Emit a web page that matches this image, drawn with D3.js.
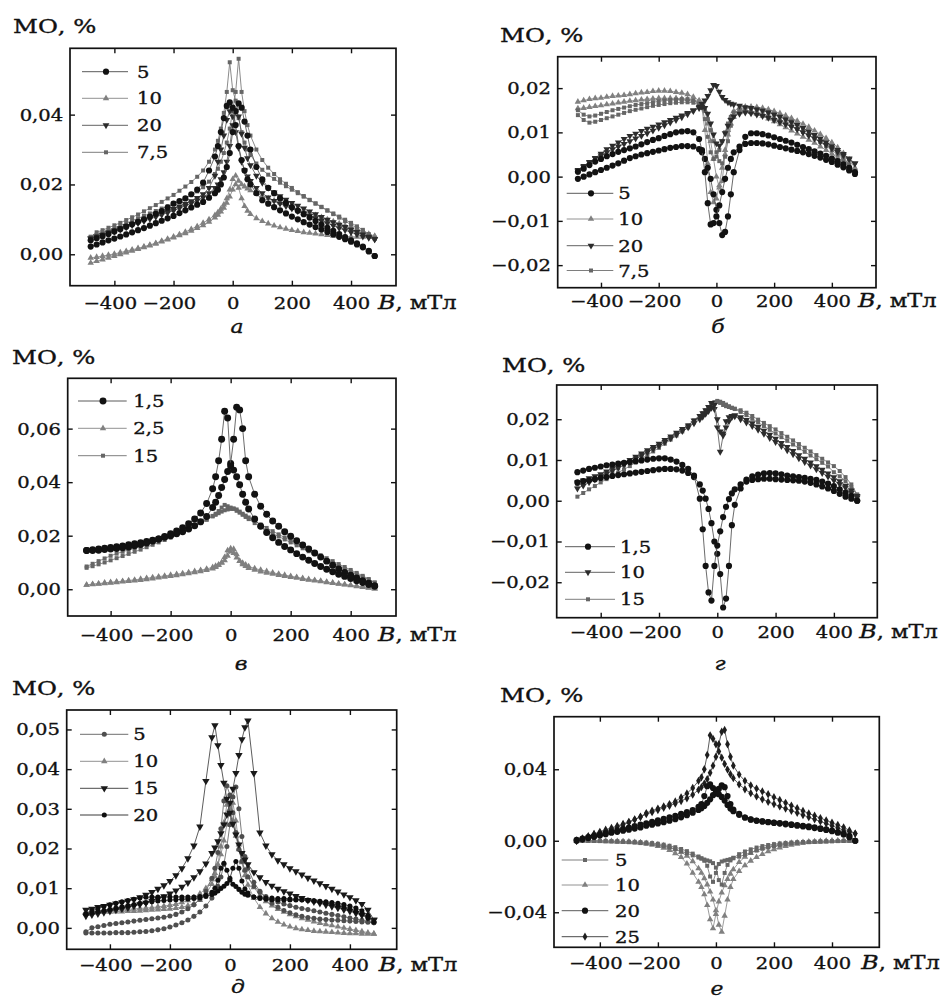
<!DOCTYPE html>
<html>
<head>
<meta charset="utf-8">
<script src="https://cdn.jsdelivr.net/npm/d3@7"></script>
<style>
  body { margin: 0; background: #fff; }
  svg { display: block; }
  text { font-family: "DejaVu Serif", "Liberation Serif", serif; fill: #111; stroke: #111; stroke-width: 0.35px; }
</style>
</head>
<body>
<svg id="fig" width="951" height="1003"></svg>
<script>
// Magnetic field values (mT) at which MO was recorded, shared by every branch
const fieldB = [-480,-460,-440,-420,-400,-380,-360,-340,-320,-300,-280,-260,-240,-220,-200,-180,-160,-140,-120,-100,-80,-60,
  -50,-40,-30,-20,-10,0,10,20,30,40,50,
  60,80,100,120,140,160,180,200,220,240,260,280,300,320,340,360,380,400,420,440,460,480];

const xTicks = [-400, -200, 0, 200, 400];

// ---- panel а : MO (%) for the increasing (up) and decreasing (down) field sweeps
const a_5_up = [.0022,.0028,.0034,.0040,.0045,.0051,.0057,.0063,.0069,.0075,.0082,.0089,.0096,.0103,.0110,.0118,.0126,.0134,.0142,.0150,.0162,.0175,
  .0185,.0200,.0220,.0250,.0290,.0350,.0410,.0432,.0420,.0380,.0340,
  .0300,.0250,.0215,.0190,.0175,.0160,.0147,.0135,.0125,.0115,.0105,.0095,.0085,.0076,.0067,.0058,.0049,.0040,.0031,.0022,.0010,-.0005];
const a_5_down = [.0040,.0046,.0052,.0058,.0065,.0072,.0079,.0086,.0093,.0100,.0108,.0116,.0124,.0134,.0145,.0152,.0160,.0172,.0185,.0205,.0240,.0280,
  .0310,.0350,.0390,.0425,.0435,.0420,.0370,.0310,.0270,.0240,.0215,
  .0200,.0175,.0155,.0145,.0135,.0126,.0117,.0108,.0100,.0092,.0085,.0078,.0071,.0064,.0057,.0050,.0043,.0036,.0028,.0020,.0008,-.0005];
const a_10_up = [-.0025,-.0020,-.0015,-.0010,-.0005,.0000,.0005,.0010,.0015,.0020,.0025,.0030,.0036,.0042,.0048,.0054,.0060,.0067,.0075,.0083,.0093,.0105,
  .0113,.0122,.0133,.0147,.0165,.0185,.0200,.0190,.0160,.0138,.0124,
  .0115,.0103,.0095,.0088,.0082,.0077,.0073,.0069,.0066,.0063,.0061,.0059,.0057,.0055,.0053,.0052,.0051,.0050,.0050,.0050,.0051,.0052];
const a_10_down = [-.0010,-.0008,-.0005,-.0002,.0001,.0005,.0009,.0013,.0017,.0022,.0027,.0032,.0038,.0044,.0050,.0057,.0064,.0072,.0080,.0090,.0100,.0112,
  .0120,.0130,.0142,.0160,.0185,.0215,.0225,.0210,.0200,.0194,.0188,
  .0183,.0175,.0167,.0160,.0154,.0148,.0142,.0136,.0130,.0124,.0118,.0112,.0106,.0100,.0094,.0088,.0082,.0076,.0070,.0064,.0058,.0052];
const a_20_up = [.0045,.0050,.0055,.0060,.0065,.0071,.0077,.0083,.0089,.0095,.0101,.0107,.0113,.0119,.0125,.0132,.0139,.0146,.0154,.0163,.0175,.0190,
  .0200,.0215,.0235,.0265,.0310,.0370,.0410,.0395,.0345,.0305,.0275,
  .0255,.0225,.0205,.0190,.0177,.0166,.0156,.0147,.0139,.0131,.0123,.0115,.0107,.0099,.0092,.0085,.0078,.0071,.0064,.0057,.0050,.0043];
const a_20_down = [.0045,.0051,.0057,.0063,.0069,.0075,.0081,.0087,.0093,.0099,.0105,.0111,.0117,.0123,.0130,.0137,.0144,.0152,.0161,.0172,.0190,.0225,
  .0265,.0300,.0340,.0385,.0410,.0395,.0350,.0305,.0265,.0240,.0223,
  .0210,.0190,.0175,.0163,.0153,.0145,.0138,.0131,.0124,.0117,.0110,.0103,.0096,.0089,.0082,.0075,.0069,.0063,.0057,.0051,.0047,.0043];
const a_7_5_up = [.0050,.0056,.0062,.0068,.0075,.0082,.0089,.0096,.0103,.0110,.0117,.0124,.0131,.0138,.0145,.0153,.0161,.0170,.0180,.0192,.0208,.0230,
  .0245,.0265,.0290,.0320,.0360,.0410,.0465,.0560,.0465,.0410,.0370,
  .0340,.0300,.0270,.0248,.0230,.0215,.0202,.0190,.0178,.0167,.0156,.0146,.0136,.0126,.0117,.0108,.0099,.0090,.0080,.0070,.0058,.0045];
const a_7_5_down = [.0050,.0063,.0069,.0076,.0083,.0090,.0098,.0106,.0114,.0123,.0132,.0141,.0150,.0160,.0170,.0182,.0194,.0207,.0222,.0240,.0265,.0300,
  .0325,.0360,.0405,.0465,.0550,.0470,.0440,.0390,.0350,.0320,.0300,
  .0285,.0260,.0242,.0228,.0216,.0205,.0195,.0185,.0175,.0165,.0155,.0145,.0135,.0125,.0115,.0105,.0095,.0085,.0075,.0065,.0055,.0045];

// ---- panel б
const b_5_up = [-.0005,.0000,.0005,.0010,.0015,.0020,.0025,.0030,.0036,.0042,.0046,.0050,.0053,.0056,.0059,.0062,.0065,.0067,.0069,.0069,.0068,.0062,
  .0055,.0040,.0020,-.0005,-.0040,-.0075,-.0105,-.0132,-.0125,-.0090,-.0040,
  .0010,.0060,.0090,.0098,.0098,.0096,.0093,.0089,.0085,.0081,.0077,.0072,.0067,.0062,.0057,.0052,.0047,.0041,.0035,.0028,.0020,.0010];
const b_5_down = [.0011,.0018,.0026,.0034,.0040,.0046,.0051,.0056,.0060,.0064,.0068,.0073,.0078,.0083,.0087,.0092,.0096,.0100,.0102,.0103,.0100,.0085,
  .0060,.0010,-.0060,-.0108,-.0105,-.0090,-.0065,-.0035,-.0005,.0020,.0040,
  .0055,.0068,.0074,.0076,.0076,.0075,.0073,.0070,.0067,.0064,.0061,.0058,.0055,.0051,.0047,.0043,.0038,.0033,.0027,.0021,.0014,.0006];
const b_10_up = [.0154,.0155,.0157,.0159,.0161,.0163,.0165,.0167,.0169,.0171,.0172,.0174,.0175,.0176,.0177,.0177,.0177,.0177,.0176,.0175,.0173,.0170,
  .0165,.0150,.0120,.0080,.0040,.0000,-.0025,-.0010,.0050,.0105,.0135,
  .0148,.0156,.0158,.0158,.0157,.0155,.0152,.0148,.0143,.0138,.0132,.0126,.0119,.0112,.0104,.0096,.0087,.0077,.0066,.0053,.0038,.0020];
const b_10_down = [.0169,.0172,.0175,.0177,.0178,.0180,.0182,.0183,.0184,.0186,.0188,.0190,.0191,.0193,.0194,.0194,.0193,.0191,.0189,.0186,.0180,.0172,
  .0155,.0105,.0030,-.0035,-.0058,-.0050,-.0020,.0020,.0060,.0095,.0120,
  .0135,.0145,.0148,.0146,.0142,.0137,.0131,.0125,.0118,.0111,.0104,.0097,.0090,.0083,.0076,.0068,.0060,.0052,.0043,.0034,.0024,.0014];
const b_20_up = [.0012,.0022,.0032,.0042,.0052,.0062,.0070,.0077,.0085,.0092,.0097,.0103,.0108,.0113,.0118,.0123,.0128,.0133,.0138,.0144,.0150,.0158,
  .0164,.0172,.0182,.0195,.0207,.0205,.0192,.0180,.0173,.0168,.0165,
  .0163,.0160,.0157,.0155,.0152,.0149,.0145,.0140,.0135,.0129,.0123,.0117,.0110,.0102,.0094,.0086,.0078,.0069,.0060,.0051,.0041,.0030];
const b_20_down = [.0015,.0024,.0033,.0041,.0048,.0055,.0062,.0068,.0074,.0080,.0086,.0092,.0098,.0104,.0110,.0116,.0122,.0128,.0134,.0141,.0148,.0155,
  .0158,.0155,.0142,.0120,.0095,.0075,.0070,.0080,.0098,.0115,.0128,
  .0136,.0142,.0145,.0143,.0140,.0137,.0133,.0128,.0123,.0118,.0113,.0107,.0100,.0093,.0086,.0079,.0072,.0064,.0056,.0048,.0039,.0030];
const b_7_5_up = [.0139,.0128,.0122,.0124,.0128,.0132,.0136,.0140,.0144,.0148,.0151,.0154,.0157,.0160,.0162,.0164,.0166,.0167,.0168,.0168,.0167,.0163,
  .0158,.0148,.0130,.0105,.0080,.0055,.0035,.0030,.0045,.0080,.0115,
  .0135,.0150,.0155,.0155,.0153,.0150,.0146,.0142,.0137,.0131,.0125,.0118,.0110,.0102,.0093,.0084,.0075,.0065,.0054,.0042,.0028,.0010];
const b_7_5_down = [.0150,.0140,.0136,.0138,.0142,.0146,.0150,.0153,.0156,.0159,.0162,.0164,.0166,.0168,.0170,.0172,.0173,.0174,.0175,.0175,.0172,.0165,
  .0155,.0130,.0090,.0055,.0040,.0045,.0060,.0080,.0100,.0120,.0135,
  .0145,.0150,.0150,.0148,.0145,.0141,.0137,.0132,.0127,.0121,.0115,.0108,.0101,.0094,.0086,.0078,.0069,.0060,.0050,.0039,.0026,.0008];

// ---- panel в
const v_1_5_up = [.0145,.0148,.0150,.0153,.0156,.0159,.0162,.0166,.0170,.0174,.0178,.0183,.0188,.0194,.0200,.0207,.0215,.0225,.0237,.0252,.0272,.0305,
  .0325,.0350,.0380,.0410,.0440,.0470,.0560,.0680,.0670,.0600,.0480,
  .0420,.0355,.0310,.0280,.0255,.0235,.0215,.0198,.0181,.0165,.0150,.0135,.0120,.0105,.0090,.0076,.0063,.0052,.0042,.0032,.0022,.0012];
const v_1_5_down = [.0145,.0145,.0146,.0148,.0150,.0152,.0155,.0158,.0162,.0167,.0173,.0180,.0188,.0197,.0207,.0218,.0230,.0245,.0262,.0285,.0320,.0375,
  .0420,.0480,.0560,.0665,.0640,.0460,.0445,.0420,.0390,.0355,.0325,
  .0300,.0262,.0235,.0212,.0192,.0175,.0160,.0147,.0133,.0120,.0108,.0096,.0085,.0075,.0065,.0056,.0048,.0040,.0032,.0025,.0018,.0012];
const v_2_5_up = [.0016,.0019,.0021,.0024,.0026,.0028,.0030,.0033,.0035,.0038,.0041,.0044,.0047,.0050,.0053,.0056,.0059,.0063,.0067,.0071,.0076,.0082,
  .0087,.0092,.0098,.0108,.0125,.0140,.0150,.0130,.0105,.0093,.0086,
  .0079,.0072,.0066,.0061,.0057,.0053,.0049,.0045,.0042,.0038,.0035,.0032,.0029,.0026,.0023,.0020,.0017,.0014,.0011,.0008,.0005,.0002];
const v_2_5_down = [.0016,.0018,.0020,.0022,.0024,.0026,.0028,.0030,.0032,.0034,.0037,.0040,.0043,.0046,.0049,.0052,.0055,.0059,.0063,.0067,.0071,.0077,
  .0083,.0090,.0100,.0120,.0145,.0152,.0135,.0118,.0106,.0098,.0092,
  .0085,.0078,.0072,.0067,.0062,.0057,.0053,.0049,.0045,.0041,.0037,.0034,.0031,.0027,.0024,.0021,.0018,.0015,.0012,.0009,.0006,.0002];
const v_15_up = [.0085,.0095,.0105,.0115,.0125,.0133,.0140,.0147,.0153,.0160,.0167,.0175,.0183,.0191,.0199,.0207,.0216,.0226,.0237,.0248,.0260,.0272,
  .0278,.0284,.0290,.0295,.0298,.0300,.0302,.0298,.0290,.0282,.0275,
  .0268,.0255,.0242,.0229,.0217,.0205,.0193,.0182,.0171,.0160,.0149,.0138,.0127,.0116,.0105,.0094,.0083,.0072,.0061,.0050,.0038,.0025];
const v_15_down = [.0080,.0086,.0093,.0100,.0108,.0116,.0124,.0132,.0140,.0148,.0157,.0166,.0175,.0184,.0193,.0203,.0213,.0224,.0235,.0247,.0260,.0274,
  .0282,.0292,.0305,.0315,.0310,.0305,.0300,.0293,.0286,.0278,.0270,
  .0262,.0247,.0233,.0220,.0208,.0197,.0186,.0175,.0164,.0153,.0142,.0131,.0120,.0109,.0098,.0087,.0076,.0066,.0056,.0046,.0036,.0025];

// ---- panel г
const g_1_5_up = [.0045,.0048,.0050,.0053,.0056,.0058,.0061,.0063,.0065,.0067,.0069,.0071,.0073,.0075,.0077,.0078,.0078,.0077,.0074,.0068,.0058,.0040,
  .0025,.0005,-.0020,-.0055,-.0100,-.0130,-.0180,-.0262,-.0240,-.0160,-.0060,
  -.0010,.0030,.0052,.0060,.0064,.0067,.0068,.0067,.0065,.0062,.0060,.0058,.0056,.0054,.0051,.0047,.0042,.0036,.0028,.0020,.0012,.0000];
const g_1_5_down = [.0070,.0074,.0078,.0081,.0084,.0087,.0089,.0091,.0093,.0095,.0097,.0099,.0101,.0103,.0104,.0104,.0101,.0096,.0088,.0078,.0062,.0005,
  -.0070,-.0160,-.0225,-.0245,-.0160,-.0110,-.0075,-.0040,-.0015,.0004,.0018,
  .0028,.0040,.0047,.0051,.0053,.0054,.0054,.0053,.0052,.0051,.0050,.0049,.0047,.0044,.0040,.0035,.0030,.0024,.0017,.0010,.0005,.0000];
const g_10_up = [.0030,.0037,.0045,.0052,.0060,.0067,.0074,.0081,.0088,.0095,.0103,.0111,.0119,.0127,.0135,.0144,.0153,.0162,.0171,.0180,.0190,.0200,
  .0206,.0213,.0220,.0228,.0225,.0180,.0120,.0160,.0195,.0205,.0208,
  .0207,.0200,.0192,.0183,.0174,.0164,.0154,.0144,.0134,.0124,.0114,.0104,.0095,.0086,.0077,.0068,.0059,.0050,.0041,.0032,.0020,.0008];
const g_10_down = [.0045,.0050,.0055,.0060,.0065,.0072,.0079,.0086,.0093,.0100,.0108,.0116,.0124,.0132,.0140,.0149,.0158,.0167,.0176,.0185,.0197,.0208,
  .0215,.0222,.0230,.0240,.0235,.0200,.0170,.0165,.0180,.0195,.0205,
  .0210,.0205,.0198,.0190,.0181,.0172,.0162,.0152,.0142,.0132,.0122,.0112,.0103,.0094,.0085,.0076,.0067,.0058,.0048,.0037,.0025,.0012];
const g_15_up = [.0010,.0019,.0028,.0036,.0045,.0053,.0061,.0069,.0077,.0085,.0094,.0103,.0112,.0121,.0130,.0140,.0150,.0160,.0170,.0180,.0192,.0205,
  .0212,.0220,.0228,.0235,.0240,.0243,.0240,.0235,.0232,.0230,.0228,
  .0226,.0222,.0216,.0208,.0199,.0191,.0183,.0175,.0166,.0157,.0148,.0139,.0130,.0121,.0112,.0103,.0094,.0085,.0073,.0058,.0040,.0015];
const g_15_down = [.0040,.0044,.0049,.0053,.0058,.0065,.0073,.0080,.0088,.0095,.0104,.0112,.0121,.0129,.0138,.0147,.0156,.0165,.0175,.0185,.0197,.0208,
  .0215,.0222,.0229,.0235,.0242,.0245,.0243,.0240,.0236,.0232,.0228,
  .0225,.0218,.0210,.0201,.0192,.0183,.0174,.0165,.0156,.0147,.0138,.0129,.0120,.0111,.0102,.0093,.0084,.0070,.0060,.0048,.0033,.0015];

// ---- panel д
const d_5_up = [-.0013,-.0013,-.0013,-.0013,-.0013,-.0012,-.0012,-.0012,-.0011,-.0010,-.0009,-.0007,-.0005,-.0002,.0002,.0007,.0013,.0020,.0029,.0040,.0055,.0075,
  .0088,.0105,.0128,.0160,.0205,.0260,.0330,.0355,.0300,.0230,.0180,
  .0150,.0115,.0092,.0075,.0062,.0052,.0044,.0038,.0033,.0029,.0026,.0024,.0022,.0021,.0020,.0019,.0018,.0017,.0016,.0015,.0014,.0013];
const d_5_down = [-.0010,.0000,.0003,.0006,.0009,.0011,.0013,.0015,.0017,.0019,.0021,.0023,.0025,.0027,.0030,.0034,.0040,.0048,.0058,.0072,.0092,.0125,
  .0150,.0190,.0250,.0320,.0358,.0335,.0290,.0240,.0198,.0168,.0145,
  .0128,.0105,.0090,.0079,.0071,.0065,.0060,.0056,.0052,.0049,.0046,.0043,.0040,.0037,.0034,.0031,.0028,.0025,.0022,.0019,.0016,.0013];
const d_10_up = [.0040,.0041,.0042,.0043,.0044,.0045,.0046,.0047,.0048,.0049,.0050,.0051,.0053,.0055,.0057,.0060,.0064,.0069,.0076,.0086,.0100,.0122,
  .0138,.0158,.0185,.0220,.0260,.0295,.0315,.0270,.0210,.0165,.0132,
  .0108,.0075,.0052,.0036,.0024,.0015,.0008,.0003,-.0001,-.0004,-.0006,-.0008,-.0009,-.0010,-.0011,-.0012,-.0013,-.0014,-.0014,-.0015,-.0015,-.0015];
const d_10_down = [.0040,.0040,.0040,.0040,.0040,.0041,.0041,.0042,.0042,.0043,.0044,.0045,.0046,.0047,.0048,.0050,.0052,.0056,.0061,.0070,.0085,.0110,
  .0130,.0160,.0205,.0265,.0310,.0300,.0270,.0232,.0198,.0168,.0145,
  .0128,.0102,.0082,.0067,.0056,.0047,.0040,.0034,.0029,.0024,.0020,.0016,.0012,.0009,.0006,.0003,.0000,-.0003,-.0006,-.0009,-.0012,-.0015];
const d_15_up = [.0030,.0033,.0036,.0039,.0042,.0045,.0048,.0051,.0055,.0059,.0063,.0068,.0073,.0079,.0086,.0094,.0103,.0114,.0127,.0142,.0162,.0188,
  .0202,.0218,.0238,.0260,.0285,.0315,.0350,.0390,.0435,.0475,.0505,
  .0522,.0390,.0240,.0207,.0185,.0170,.0160,.0150,.0142,.0134,.0126,.0119,.0112,.0105,.0098,.0091,.0084,.0077,.0069,.0060,.0045,.0020];
const d_15_down = [.0045,.0048,.0052,.0055,.0058,.0061,.0064,.0068,.0072,.0077,.0083,.0090,.0098,.0107,.0118,.0132,.0150,.0175,.0207,.0255,.0370,.0480,
  .0510,.0460,.0410,.0365,.0325,.0290,.0262,.0235,.0210,.0188,.0172,
  .0160,.0140,.0127,.0115,.0106,.0098,.0092,.0086,.0080,.0075,.0070,.0066,.0062,.0058,.0054,.0050,.0046,.0042,.0037,.0032,.0026,.0020];
const d_20_up = [.0035,.0038,.0041,.0044,.0047,.0050,.0053,.0056,.0059,.0062,.0064,.0066,.0068,.0069,.0070,.0071,.0072,.0073,.0074,.0076,.0079,.0084,
  .0088,.0093,.0099,.0105,.0112,.0125,.0150,.0167,.0150,.0118,.0098,
  .0088,.0078,.0074,.0072,.0071,.0070,.0070,.0070,.0070,.0070,.0069,.0068,.0067,.0066,.0064,.0062,.0059,.0055,.0050,.0043,.0032,.0015];
const d_20_down = [.0035,.0043,.0049,.0054,.0058,.0062,.0066,.0069,.0072,.0075,.0077,.0078,.0078,.0078,.0078,.0078,.0078,.0078,.0078,.0079,.0082,.0090,
  .0100,.0120,.0150,.0163,.0145,.0120,.0110,.0104,.0097,.0090,.0085,
  .0082,.0078,.0076,.0075,.0075,.0074,.0074,.0073,.0072,.0071,.0070,.0068,.0066,.0063,.0060,.0057,.0053,.0048,.0042,.0035,.0025,.0015];

// ---- panel е
const e_5_up = [.0000,.0000,-.0001,-.0001,-.0002,-.0003,-.0004,-.0005,-.0006,-.0008,-.0010,-.0013,-.0016,-.0020,-.0025,-.0031,-.0038,-.0047,-.0058,-.0070,-.0082,-.0094,
  -.0100,-.0105,-.0110,-.0115,-.0125,-.0150,-.0220,-.0245,-.0180,-.0135,-.0110,
  -.0095,-.0075,-.0060,-.0048,-.0038,-.0030,-.0024,-.0019,-.0015,-.0012,-.0010,-.0008,-.0007,-.0006,-.0005,-.0004,-.0003,-.0002,-.0001,-.0001,.0000,.0000];
const e_5_down = [.0000,.0000,.0000,.0000,-.0001,-.0001,-.0002,-.0003,-.0004,-.0005,-.0006,-.0008,-.0010,-.0013,-.0017,-.0022,-.0028,-.0036,-.0046,-.0058,-.0072,-.0088,
  -.0098,-.0112,-.0140,-.0200,-.0230,-.0180,-.0130,-.0116,-.0111,-.0107,-.0103,
  -.0098,-.0089,-.0078,-.0066,-.0055,-.0045,-.0037,-.0030,-.0024,-.0019,-.0015,-.0012,-.0010,-.0008,-.0006,-.0005,-.0004,-.0003,-.0002,-.0001,.0000,.0000];
const e_10_up = [.0000,.0000,.0000,-.0001,-.0002,-.0003,-.0004,-.0005,-.0006,-.0007,-.0009,-.0011,-.0014,-.0017,-.0021,-.0027,-.0035,-.0047,-.0063,-.0085,-.0115,-.0155,
  -.0180,-.0210,-.0245,-.0285,-.0330,-.0390,-.0470,-.0510,-.0420,-.0330,-.0260,
  -.0215,-.0170,-.0138,-.0112,-.0092,-.0075,-.0060,-.0048,-.0038,-.0030,-.0023,-.0017,-.0012,-.0008,-.0005,-.0003,-.0001,.0000,.0000,.0000,.0000,.0000];
const e_10_down = [.0000,.0000,.0000,.0000,.0000,-.0001,-.0002,-.0003,-.0004,-.0006,-.0008,-.0011,-.0016,-.0022,-.0030,-.0040,-.0052,-.0070,-.0092,-.0128,-.0180,-.0230,
  -.0260,-.0300,-.0360,-.0440,-.0490,-.0410,-.0340,-.0290,-.0250,-.0215,-.0185,
  -.0160,-.0120,-.0090,-.0069,-.0053,-.0041,-.0032,-.0025,-.0020,-.0016,-.0013,-.0010,-.0008,-.0006,-.0005,-.0004,-.0003,-.0002,-.0001,.0000,.0000,.0000];
const e_20_up = [.0000,.0008,.0015,.0022,.0030,.0037,.0045,.0050,.0056,.0062,.0068,.0074,.0084,.0090,.0097,.0104,.0112,.0121,.0131,.0143,.0157,.0172,
  .0182,.0195,.0212,.0232,.0255,.0265,.0290,.0310,.0300,.0250,.0205,
  .0175,.0150,.0130,.0118,.0112,.0108,.0105,.0102,.0099,.0096,.0092,.0088,.0084,.0080,.0075,.0070,.0064,.0057,.0049,.0040,.0028,.0000];
const e_20_down = [.0005,.0012,.0020,.0027,.0035,.0043,.0051,.0058,.0066,.0074,.0082,.0090,.0098,.0106,.0114,.0122,.0131,.0140,.0150,.0160,.0172,.0190,
  .0205,.0250,.0305,.0315,.0295,.0275,.0260,.0245,.0225,.0200,.0180,
  .0165,.0145,.0130,.0120,.0113,.0108,.0104,.0100,.0096,.0092,.0088,.0084,.0080,.0076,.0071,.0066,.0060,.0053,.0045,.0035,.0020,.0000];
const e_25_up = [.0000,.0012,.0024,.0036,.0044,.0054,.0065,.0077,.0090,.0102,.0118,.0133,.0149,.0160,.0172,.0184,.0196,.0208,.0222,.0238,.0258,.0285,
  .0300,.0320,.0345,.0380,.0420,.0470,.0540,.0610,.0620,.0540,.0470,
  .0420,.0370,.0335,.0310,.0292,.0276,.0260,.0244,.0228,.0212,.0197,.0182,.0167,.0153,.0140,.0127,.0114,.0101,.0088,.0075,.0058,.0040];
const e_25_down = [.0000,.0012,.0025,.0038,.0050,.0062,.0072,.0083,.0094,.0106,.0120,.0135,.0155,.0168,.0180,.0192,.0205,.0220,.0243,.0265,.0295,.0335,
  .0355,.0400,.0480,.0590,.0570,.0540,.0500,.0465,.0430,.0398,.0372,
  .0350,.0315,.0288,.0266,.0248,.0232,.0218,.0205,.0192,.0180,.0168,.0156,.0144,.0132,.0120,.0108,.0096,.0084,.0072,.0060,.0050,.0040];

// Marker/line looks shared by the panels
const looks = {
  blackCircle: { shape: "circle",  size: 30, fill: "#121212", line: "#5a5a5a" },
  bigCircle:   { shape: "circle",  size: 38, fill: "#121212", line: "#5a5a5a" },
  smallBlack:  { shape: "circle",  size: 20, fill: "#0e0e0e", line: "#3a3a3a" },
  grayCircle:  { shape: "circle",  size: 20, fill: "#4e4e4e", line: "#6e6e6e" },
  grayTri:     { shape: "triUp",   size: 18, fill: "#808080", line: "#929292" },
  darkTri:     { shape: "triDown", size: 20, fill: "#2c2c2c", line: "#636363" },
  blackTri:    { shape: "triDown", size: 24, fill: "#1a1a1a", line: "#4a4a4a" },
  graySquare:  { shape: "square",  size: 16, fill: "#666",    line: "#7e7e7e" },
  darkDiamond: { shape: "diamond", size: 20, fill: "#1e1e1e", line: "#4a4a4a" }
};

const panels = [
  { letter: "а", frame: [70, 48.3, 396, 285.7], xDomain: [-550, 552], yDomain: [-0.009, 0.059],
    yTicks: [0, 0.02, 0.04], ylabel: [13, 33], letterPos: [237, 333], tickPad: 11,
    legend: { x1: 82, x2: 128, xm: 106, xt: 137, rows: [71.7, 98.3, 125.3, 152.3] },
    series: [
      { name: "5",   up: a_5_up,   down: a_5_down,   look: looks.blackCircle },
      { name: "10",  up: a_10_up,  down: a_10_down,  look: looks.grayTri },
      { name: "20",  up: a_20_up,  down: a_20_down,  look: looks.darkTri },
      { name: "7,5", up: a_7_5_up, down: a_7_5_down, look: looks.graySquare }
    ], order: [1, 3, 2, 0] },
  { letter: "б", frame: [557.7, 56.7, 876, 287.7], xDomain: [-550, 553], yDomain: [-0.0251, 0.0271],
    yTicks: [-0.02, -0.01, 0, 0.01, 0.02], ylabel: [500, 42], letterPos: [718, 333], tickPad: 7,
    legend: { x1: 566.7, x2: 613.3, xm: 591, xt: 618.3, rows: [193.3, 219, 245.7, 270.5] },
    series: [
      { name: "5",   up: b_5_up,   down: b_5_down,   look: looks.blackCircle },
      { name: "10",  up: b_10_up,  down: b_10_down,  look: looks.grayTri },
      { name: "20",  up: b_20_up,  down: b_20_down,  look: looks.darkTri },
      { name: "7,5", up: b_7_5_up, down: b_7_5_down, look: looks.graySquare }
    ], order: [1, 3, 2, 0] },
  { letter: "в", frame: [67.7, 378.3, 396, 616], xDomain: [-543, 551], yDomain: [-0.010, 0.0788],
    yTicks: [0, 0.02, 0.04, 0.06], ylabel: [12, 364], letterPos: [241, 670], tickPad: 13,
    legend: { x1: 78, x2: 126.7, xm: 103, xt: 133.3, rows: [401, 428.3, 455.7] },
    series: [
      { name: "1,5", up: v_1_5_up, down: v_1_5_down, look: looks.bigCircle },
      { name: "2,5", up: v_2_5_up, down: v_2_5_down, look: looks.grayTri },
      { name: "15",  up: v_15_up,  down: v_15_down,  look: looks.graySquare }
    ], order: [1, 2, 0] },
  { letter: "г", frame: [556.7, 385, 877.3, 617.7], xDomain: [-551, 549], yDomain: [-0.0287, 0.0284],
    yTicks: [-0.02, -0.01, 0, 0.01, 0.02], ylabel: [502, 372], letterPos: [720, 670], tickPad: 8,
    legend: { x1: 565, x2: 615, xm: 588, xt: 620, rows: [546.7, 572.3, 599.3] },
    series: [
      { name: "1,5", up: g_1_5_up, down: g_1_5_down, look: looks.blackCircle },
      { name: "10",  up: g_10_up,  down: g_10_down,  look: looks.darkTri },
      { name: "15",  up: g_15_up,  down: g_15_down,  look: looks.graySquare }
    ], order: [2, 1, 0] },
  { letter: "д", frame: [66.7, 710, 396.7, 949.3], xDomain: [-544, 556], yDomain: [-0.0054, 0.0549],
    yTicks: [0, 0.01, 0.02, 0.03, 0.04, 0.05], ylabel: [12, 695], letterPos: [238, 993], tickPad: 10,
    legend: { x1: 80, x2: 128.3, xm: 104.3, xt: 133.3, rows: [734.3, 761.3, 788.3, 815] },
    series: [
      { name: "5",  up: d_5_up,  down: d_5_down,  look: looks.grayCircle },
      { name: "10", up: d_10_up, down: d_10_down, look: looks.grayTri },
      { name: "15", up: d_15_up, down: d_15_down, look: looks.blackTri },
      { name: "20", up: d_20_up, down: d_20_down, look: looks.smallBlack }
    ], order: [1, 0, 2, 3] },
  { letter: "е", frame: [554, 716.7, 879.3, 947.3], xDomain: [-558, 563], yDomain: [-0.0596, 0.0694],
    yTicks: [-0.04, 0, 0.04], ylabel: [500, 702], letterPos: [717, 995], tickPad: 10,
    legend: { x1: 561.7, x2: 608.3, xm: 585, xt: 615, rows: [860, 885, 910.7, 936.7] },
    series: [
      { name: "5",  up: e_5_up,  down: e_5_down,  look: looks.graySquare },
      { name: "10", up: e_10_up, down: e_10_down, look: looks.grayTri },
      { name: "20", up: e_20_up, down: e_20_down, look: looks.blackCircle },
      { name: "25", up: e_25_up, down: e_25_down, look: looks.darkDiamond }
    ], order: [1, 0, 3, 2] }
];

const svg = d3.select("#fig");
const SX = 1.15;          // horizontal stretch of the serif lettering
const TICK_FONT = 17;

const fmtY = v => d3.format(".2f")(v).replace("-", "\u2212").replace(".", ",");
const fmtX = v => d3.format("d")(v).replace("-", "\u2212");

function symbolPath(look) {
  const type = { circle: d3.symbolCircle, triUp: d3.symbolTriangle, triDown: d3.symbolTriangle,
                 square: d3.symbolSquare, diamond: d3.symbolDiamond }[look.shape];
  return d3.symbol().type(type).size(look.size)();
}

function stretched(g, str, x, y, opt = {}) {
  const t = g.append("text")
    .attr("transform", `translate(${x},${y}) scale(${opt.sx || SX},1)`)
    .attr("text-anchor", opt.anchor || "start")
    .style("font-size", (opt.size || TICK_FONT) + "px");
  if (opt.italic) t.style("font-style", "italic");
  t.text(str);
  return t;
}

function drawMarkers(g, pts, look, x, y) {
  const d = symbolPath(look);
  const rot = look.shape === "triDown" ? " rotate(180)" : "";
  g.selectAll(null).data(pts).join("path")
    .attr("d", d)
    .attr("transform", p => `translate(${x(p[0])},${y(p[1])})${rot}`)
    .attr("fill", look.fill);
}

panels.forEach(p => {
  const [l, t, r, b] = p.frame;
  const x = d3.scaleLinear().domain(p.xDomain).range([l, r]);
  const y = d3.scaleLinear().domain(p.yDomain).range([b, t]);
  const g = svg.append("g");

  // data: each sweep branch as a thin line with its markers
  const line = d3.line().x(d => x(d[0])).y(d => y(d[1]));
  p.order.forEach(i => {
    const s = p.series[i];
    [s.up, s.down].forEach(vals => {
      const pts = fieldB.map((B, k) => [B, vals[k]]).filter(d => d[1] !== undefined);
      g.append("path").attr("d", line(pts)).attr("fill", "none")
        .attr("stroke", s.look.line).attr("stroke-width", 0.9);
      drawMarkers(g, pts, s.look, x, y);
    });
  });

  // axes: inward ticks on all four sides
  const tickStyle = sel => {
    sel.select(".domain").remove();
    sel.selectAll(".tick line").attr("stroke", "#111").attr("stroke-width", 1.4);
    sel.attr("font-family", null).attr("font-size", null);
  };
  const xb = g.append("g").attr("transform", `translate(0,${b})`)
    .call(d3.axisBottom(x).tickValues(xTicks).tickSize(-5).tickPadding(p.tickPad).tickFormat(fmtX))
    .call(tickStyle);
  xb.selectAll(".tick text")
    .style("font-size", TICK_FONT + "px").attr("fill", "#111")
    .attr("transform", `scale(${SX},1)`)
    .attr("dx", d => d < 0 ? -4 : 0);
  g.append("g").attr("transform", `translate(0,${t})`)
    .call(d3.axisTop(x).tickValues(xTicks).tickSize(-5).tickFormat(""))
    .call(tickStyle);
  const yl = g.append("g").attr("transform", `translate(${l},0)`)
    .call(d3.axisLeft(y).tickValues(p.yTicks).tickSize(-5).tickPadding(6).tickFormat(fmtY))
    .call(tickStyle);
  yl.selectAll(".tick text")
    .style("font-size", TICK_FONT + "px").attr("fill", "#111")
    .attr("transform", `scale(${SX},1)`);
  g.append("g").attr("transform", `translate(${r},0)`)
    .call(d3.axisRight(y).tickValues(p.yTicks).tickSize(-5).tickFormat(""))
    .call(tickStyle);

  // frame
  g.append("rect").attr("x", l).attr("y", t).attr("width", r - l).attr("height", b - t)
    .attr("fill", "none").attr("stroke", "#111").attr("stroke-width", 1.7);

  // legend
  p.series.forEach((s, i) => {
    const ry = p.legend.rows[i];
    g.append("line").attr("x1", p.legend.x1).attr("x2", p.legend.x2).attr("y1", ry).attr("y2", ry)
      .attr("stroke", s.look.line).attr("stroke-width", 1);
    drawMarkers(g, [[0, 0]], s.look,
      () => p.legend.xm, () => ry);
    stretched(g, s.name, p.legend.xt, ry + 6);
  });

  // axis titles and panel letter
  stretched(g, "МО, %", p.ylabel[0], p.ylabel[1], { size: 19, sx: 1.28 });
  const base = b + p.tickPad + 12;
  const xt = g.append("text")
    .attr("transform", `translate(${r - 18},${base}) scale(1.25,1)`)
    .style("font-size", "18px");
  xt.append("tspan").style("font-style", "italic").style("font-size", "19px").text("B");
  xt.append("tspan").text(", мТл");
  stretched(g, p.letter, p.letterPos[0], p.letterPos[1], { anchor: "middle", italic: true, size: 19 });
});
</script>
</body>
</html>
